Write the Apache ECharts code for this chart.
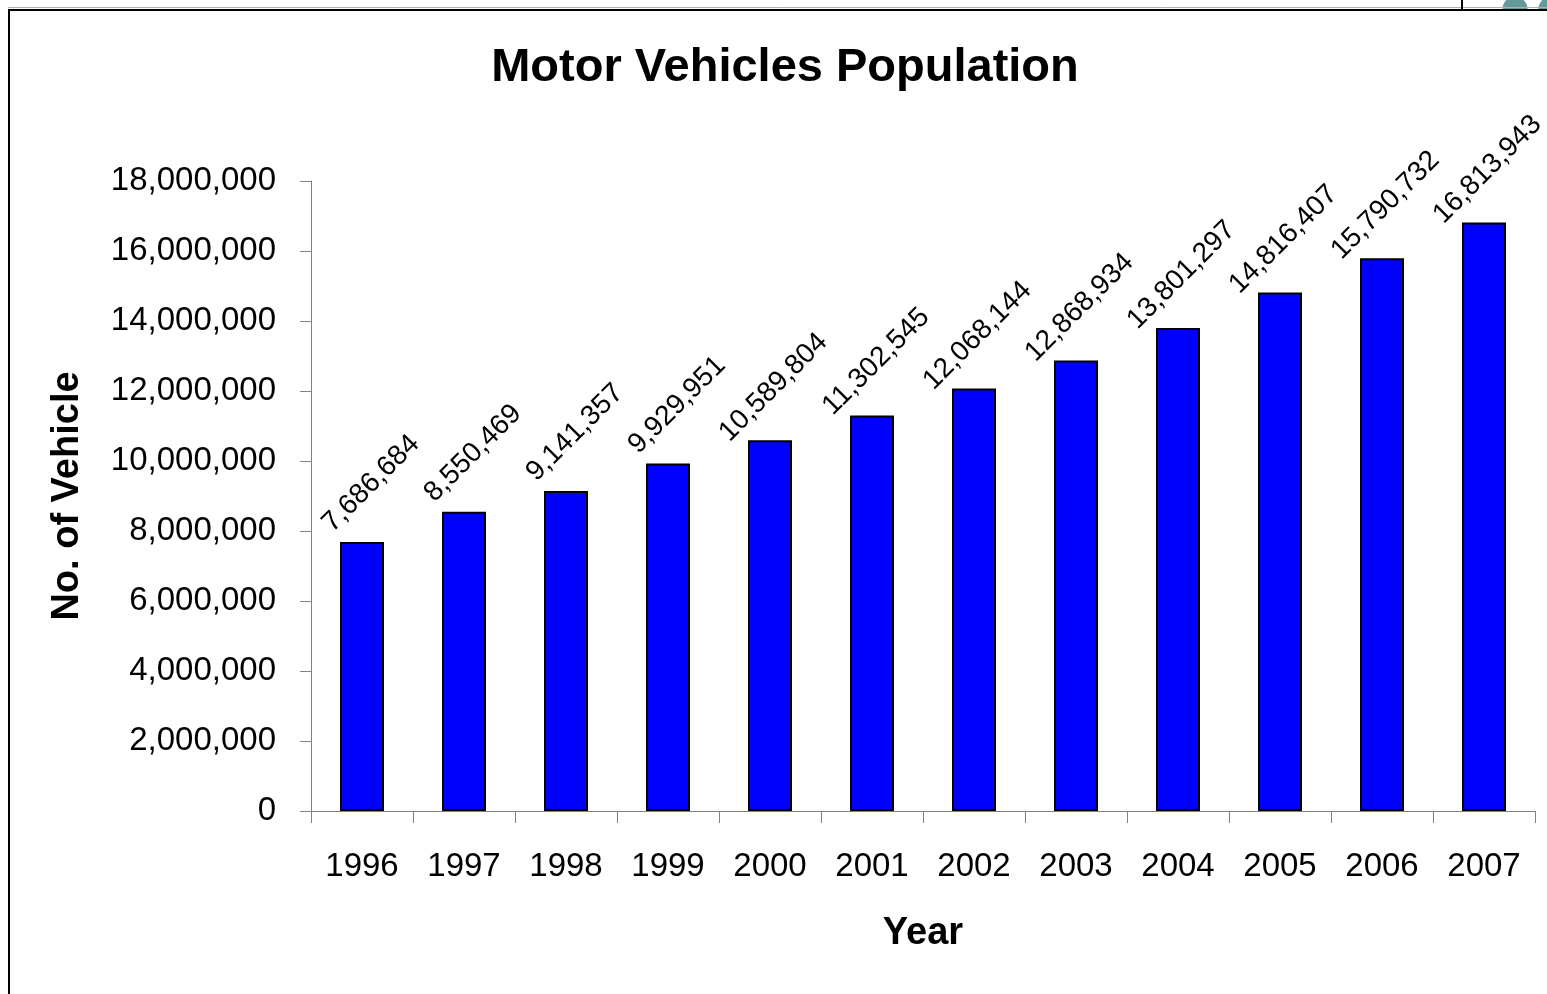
<!DOCTYPE html>
<html>
<head>
<meta charset="utf-8">
<script src="https://cdn.jsdelivr.net/npm/echarts@6/dist/echarts.min.js"></script>
<style>
html,body{margin:0;padding:0;background:#fff;}
#chart{width:1547px;height:994px;}
</style>
</head>
<body>
<div id="chart"></div>
<script>
const years = ['1996','1997','1998','1999','2000','2001','2002','2003','2004','2005','2006','2007'];
const vehicles = [7686684, 8550469, 9141357, 9929951, 10589804, 11302545, 12068144, 12868934, 13801297, 14816407, 15790732, 16813943];
const yMin = 0, yMax = 18000000, yStep = 2000000;
const titleText = 'Motor Vehicles Population';
const xName = 'Year';
const yName = 'No. of Vehicle';

const fmt = v => Number(v).toLocaleString('en-US');
const FONT = '"Liberation Sans", Arial, sans-serif';

const chart = echarts.init(document.getElementById('chart'), null, {renderer: 'canvas'});
chart.setOption({
  backgroundColor: '#ffffff',
  animation: false,
  graphic: [
    {type: 'sector', shape: {cx: 1515, cy: 9, r: 12.5, r0: 0, startAngle: Math.PI, endAngle: 2 * Math.PI}, style: {fill: '#669999'}, z: 0},
    {type: 'sector', shape: {cx: 1551, cy: 9, r: 12.5, r0: 0, startAngle: Math.PI, endAngle: 2 * Math.PI}, style: {fill: '#669999'}, z: 0},
    {type: 'line', shape: {x1: 8, y1: 7.5, x2: 1547, y2: 7.5}, style: {stroke: '#b0b0b0', lineWidth: 1}, z: 1},
    {type: 'rect', shape: {x: 9, y: 10, width: 1600, height: 1100}, style: {fill: 'none', stroke: '#000', lineWidth: 2}, z: 1},
    {type: 'line', shape: {x1: 1462, y1: 0, x2: 1462, y2: 10}, style: {stroke: '#000', lineWidth: 2}, z: 1}
  ],
  title: {
    text: titleText,
    left: 780, top: 40, textAlign: 'center',
    textStyle: {fontFamily: FONT, fontSize: 47, fontWeight: 'bold', color: '#000'}
  },
  grid: {left: 311, right: 12, top: 181, bottom: 183, containLabel: false},
  xAxis: {
    type: 'category',
    data: years,
    name: xName,
    nameLocation: 'middle',
    nameGap: 104,
    nameTextStyle: {fontFamily: FONT, fontSize: 38, fontWeight: 'bold', color: '#000'},
    axisLine: {lineStyle: {color: '#808080', width: 1}},
    axisTick: {show: true, length: 12, inside: false, lineStyle: {color: '#808080'}},
    axisLabel: {fontFamily: FONT, fontSize: 33, color: '#000', margin: 39, interval: 0},
    splitLine: {show: false}
  },
  yAxis: {
    type: 'value',
    min: yMin, max: yMax, interval: yStep,
    name: yName,
    nameLocation: 'middle',
    nameGap: 224,
    nameRotate: 90,
    nameTextStyle: {fontFamily: FONT, fontSize: 38, fontWeight: 'bold', color: '#000'},
    axisLine: {show: true, lineStyle: {color: '#808080', width: 1}},
    axisTick: {show: true, length: 11, inside: false, lineStyle: {color: '#808080'}},
    axisLabel: {fontFamily: FONT, fontSize: 33, color: '#000', margin: 35, formatter: v => fmt(v)},
    splitLine: {show: false}
  },
  series: [{
    type: 'bar',
    data: vehicles,
    barWidth: 44,
    itemStyle: {color: '#0000ff', borderColor: '#000', borderWidth: 2},
    label: {
      show: true,
      position: 'top',
      distance: 0,
      rotate: 45,
      align: 'right',
      verticalAlign: 'middle',
      offset: [110, -35],
      fontFamily: FONT,
      fontSize: 28,
      color: '#000',
      formatter: p => fmt(p.value)
    },
    z: 3
  }]
});
</script>
</body>
</html>
